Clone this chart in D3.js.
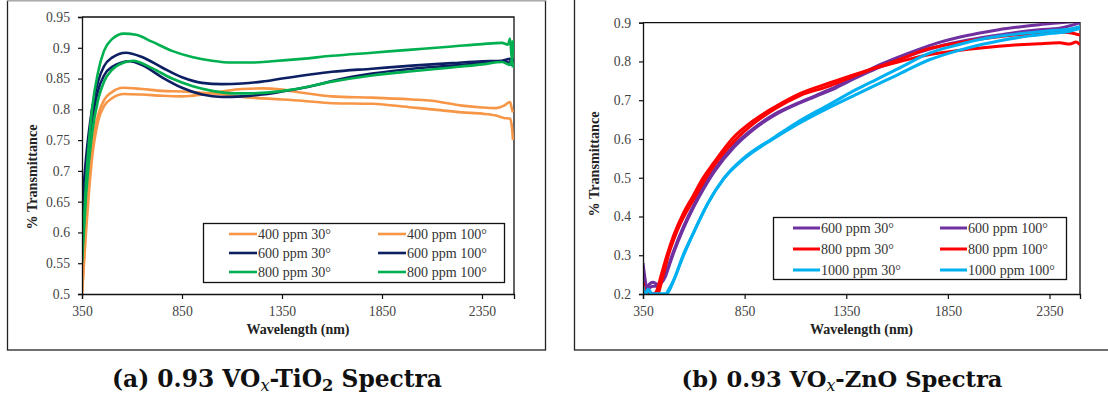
<!DOCTYPE html>
<html><head><meta charset="utf-8">
<script src="https://cdn.jsdelivr.net/npm/d3@7"></script>
<style>
html,body{margin:0;padding:0;background:#fff;}
svg{display:block;}
</style></head>
<body>
<svg id="c" width="1108" height="403"></svg>
<script>
// ---------- DATA ----------
const xTicks = [350, 850, 1350, 1850, 2350];
const tio2YTicks = [0.5, 0.55, 0.6, 0.65, 0.7, 0.75, 0.8, 0.85, 0.9, 0.95];
const znoYTicks = [0.2, 0.3, 0.4, 0.5, 0.6, 0.7, 0.8, 0.9];

const tio2Labels = ["400 ppm 30°", "400 ppm 100°", "600 ppm 30°", "600 ppm 100°", "800 ppm 30°", "800 ppm 100°"];
const znoLabels = ["600 ppm 30°", "600 ppm 100°", "800 ppm 30°", "800 ppm 100°", "1000 ppm 30°", "1000 ppm 100°"];

// TiO2 series: [wavelength nm, transmittance]
const tio2_400_30 = [[350,0.5],[370,0.62],[400,0.74],[430,0.79],[460,0.815],[500,0.828],[555,0.835],[650,0.833],[750,0.83],[850,0.829],[950,0.827],[1050,0.824],[1150,0.82],[1300,0.817],[1450,0.814],[1600,0.81],[1800,0.809],[2000,0.803],[2100,0.8],[2250,0.795],[2350,0.793],[2420,0.79],[2460,0.786],[2490,0.785],[2500,0.77],[2505,0.75]];
const tio2_400_100 = [[350,0.5],[370,0.6],[400,0.72],[430,0.78],[460,0.805],[500,0.818],[560,0.825],[650,0.824],[750,0.822],[850,0.821],[950,0.824],[1050,0.829],[1150,0.833],[1250,0.834],[1350,0.832],[1450,0.827],[1600,0.821],[1800,0.819],[2000,0.816],[2100,0.814],[2250,0.806],[2350,0.803],[2420,0.802],[2460,0.806],[2490,0.812],[2500,0.8],[2505,0.795]];
const tio2_600_30 = [[350,0.64],[370,0.72],[400,0.8],[430,0.845],[460,0.87],[500,0.884],[570,0.892],[650,0.885],[750,0.868],[850,0.852],[950,0.843],[1050,0.841],[1150,0.842],[1250,0.845],[1350,0.85],[1500,0.857],[1600,0.861],[1800,0.866],[2000,0.871],[2200,0.875],[2350,0.878],[2450,0.879],[2490,0.882],[2500,0.872],[2505,0.88]];
const tio2_600_100 = [[350,0.62],[370,0.7],[400,0.78],[430,0.83],[460,0.855],[500,0.869],[590,0.878],[650,0.872],[750,0.852],[850,0.835],[950,0.824],[1050,0.82],[1150,0.821],[1250,0.824],[1350,0.829],[1500,0.838],[1600,0.846],[1800,0.858],[2000,0.866],[2200,0.871],[2350,0.875],[2450,0.878],[2490,0.876],[2500,0.883],[2505,0.876]];
const tio2_800_30 = [[350,0.56],[370,0.68],[400,0.8],[430,0.86],[460,0.895],[500,0.914],[560,0.923],[620,0.921],[700,0.91],[800,0.895],[900,0.885],[1000,0.879],[1100,0.876],[1200,0.876],[1300,0.878],[1450,0.882],[1600,0.887],[1800,0.892],[2000,0.897],[2200,0.902],[2350,0.906],[2450,0.908],[2480,0.905],[2490,0.915],[2500,0.88],[2505,0.912]];
const tio2_800_100 = [[350,0.55],[370,0.66],[400,0.76],[430,0.815],[460,0.845],[500,0.864],[560,0.876],[605,0.879],[700,0.867],[800,0.85],[900,0.838],[1000,0.83],[1100,0.826],[1200,0.826],[1300,0.828],[1400,0.832],[1600,0.845],[1800,0.855],[2000,0.862],[2200,0.868],[2350,0.873],[2450,0.877],[2490,0.872],[2500,0.882],[2505,0.868]];

// ZnO series
const zno_600_30 = [[350,0.28],[360,0.24],[370,0.21],[380,0.225],[400,0.23],[420,0.225],[440,0.23],[460,0.25],[480,0.28],[500,0.31],[550,0.375],[600,0.43],[650,0.478],[700,0.52],[800,0.585],[900,0.63],[1000,0.665],[1100,0.69],[1200,0.712],[1300,0.735],[1400,0.762],[1500,0.788],[1600,0.81],[1700,0.83],[1800,0.848],[1900,0.862],[2000,0.873],[2100,0.882],[2200,0.889],[2300,0.895],[2400,0.9],[2500,0.905]];
const zno_600_100 = [[350,0.26],[360,0.22],[370,0.2],[380,0.215],[400,0.22],[420,0.22],[440,0.228],[460,0.245],[480,0.275],[500,0.305],[550,0.37],[600,0.425],[650,0.473],[700,0.515],[800,0.58],[900,0.627],[1000,0.662],[1100,0.688],[1200,0.71],[1300,0.732],[1400,0.758],[1500,0.782],[1600,0.803],[1700,0.822],[1800,0.838],[1900,0.85],[2000,0.86],[2100,0.868],[2200,0.876],[2300,0.882],[2400,0.886],[2500,0.9]];
const zno_800_30 = [[350,0.23],[365,0.2],[400,0.2],[414,0.205],[440,0.25],[468,0.3],[500,0.35],[550,0.41],[593,0.45],[640,0.495],[700,0.54],[788,0.6],[900,0.65],[1000,0.683],[1122,0.717],[1270,0.745],[1400,0.768],[1500,0.784],[1600,0.798],[1762,0.818],[1900,0.828],[2000,0.834],[2100,0.839],[2200,0.843],[2300,0.846],[2400,0.848],[2450,0.845],[2480,0.85],[2500,0.843]];
const zno_800_100 = [[350,0.22],[365,0.2],[420,0.2],[450,0.25],[475,0.3],[520,0.365],[600,0.445],[700,0.532],[800,0.595],[900,0.642],[1000,0.678],[1122,0.712],[1270,0.737],[1400,0.765],[1500,0.785],[1600,0.803],[1762,0.834],[1900,0.848],[2000,0.857],[2100,0.864],[2200,0.869],[2300,0.873],[2400,0.876],[2450,0.874],[2500,0.868]];
const zno_1000_30 = [[350,0.22],[360,0.2],[375,0.212],[390,0.2],[460,0.2],[480,0.215],[500,0.235],[547,0.3],[600,0.36],[665,0.43],[744,0.495],[850,0.55],[990,0.6],[1100,0.635],[1270,0.682],[1400,0.715],[1500,0.74],[1600,0.765],[1762,0.805],[1900,0.828],[2000,0.842],[2100,0.853],[2254,0.866],[2350,0.872],[2450,0.878],[2500,0.885]];
const zno_1000_100 = [[350,0.21],[360,0.2],[380,0.21],[395,0.2],[465,0.2],[485,0.215],[505,0.24],[550,0.3],[605,0.365],[670,0.435],[750,0.5],[855,0.555],[995,0.604],[1100,0.64],[1270,0.69],[1400,0.728],[1500,0.754],[1600,0.78],[1762,0.822],[1900,0.843],[2000,0.856],[2100,0.865],[2254,0.874],[2350,0.879],[2450,0.884],[2500,0.89]];

const tio2Series = [tio2_400_30, tio2_400_100, tio2_600_30, tio2_600_100, tio2_800_30, tio2_800_100];
const znoSeries = [zno_600_30, zno_600_100, zno_800_30, zno_800_100, zno_1000_30, zno_1000_100];
const tio2Colors = ["#F79646", "#F79646", "#0D1F63", "#0D1F63", "#00B050", "#00B050"];
const znoColors = ["#7030A0", "#7030A0", "#FF0000", "#FF0000", "#00B0F0", "#00B0F0"];

// ---------- FONT PICK ----------
function available(name) {
  const c = document.createElement("canvas").getContext("2d");
  const s = "abcdefghijklmnopqrstuvwxyzABCDEFGHIJKLM0123456789";
  const res = [];
  for (const fb of ["monospace", "sans-serif"]) {
    c.font = `40px ${fb}`; const a = c.measureText(s).width;
    c.font = `40px "${name}", ${fb}`; const b = c.measureText(s).width;
    res.push(Math.abs(a - b) > 0.5);
  }
  return res[0] && res[1];
}
const serifCands = ["Liberation Serif", "Times New Roman", "Tinos", "Noto Serif", "DejaVu Serif", "Georgia"];
const SERIF = (serifCands.find(available) || "DejaVu Serif");
const capCands = ["DejaVu Serif", "Noto Serif", "Liberation Serif", "Times New Roman"];
const CAPF = (capCands.find(available) || SERIF);
const FF = `"${SERIF}", serif`;
const CF = `"${CAPF}", serif`;

// ---------- DRAW ----------
const svg = d3.select("#c");
const fmt = d => String(+d.toFixed(2));

function fit(sel, target) {
  // scale font size so text width equals target
  sel.each(function () {
    const el = d3.select(this);
    const fs = parseFloat(el.attr("font-size"));
    const w = this.getComputedTextLength();
    if (w > 0) el.attr("font-size", (fs * target / w).toFixed(2));
  });
}
function scaleFor(sample, weight, target, family) {
  const t = svg.append("text").attr("font-family", family).attr("font-size", 20)
    .attr("font-weight", weight).text(sample);
  const w = t.node().getComputedTextLength();
  t.remove();
  return w > 0 ? 20 * target / w : 13;
}
const tickFS = Math.min(16, scaleFor("0.95", "normal", 24, FF));
const legFS = Math.min(16, scaleFor("400 ppm 100°", "normal", 80, FF));

// outer frames
svg.append("rect").attr("x", 7.5).attr("y", 0.5).attr("width", 538).attr("height", 349.5)
  .attr("fill", "none").attr("stroke", "#222").attr("stroke-width", 1.3);
svg.append("line").attr("x1", 7).attr("x2", 546).attr("y1", 0.5).attr("y2", 0.5)
  .attr("stroke", "#aaa").attr("stroke-width", 1.3);
svg.append("rect").attr("x", 574.5).attr("y", -5).attr("width", 560).attr("height", 355)
  .attr("fill", "none").attr("stroke", "#222").attr("stroke-width", 1.3);

function panel(o) {
  const x = d3.scaleLinear().domain(o.xDomain).range(o.xRange);
  const y = d3.scaleLinear().domain(o.yDomain).range(o.yRange);
  const g = svg.append("g").attr("font-family", FF);
  const id = "clip" + o.key;
  svg.append("clipPath").attr("id", id).append("rect")
    .attr("x", o.xRange[0]).attr("y", o.yRange[1])
    .attr("width", o.xRange[1] - o.xRange[0]).attr("height", o.yRange[0] - o.yRange[1]);

  g.append("path")
    .attr("d", `M${o.xRange[0]},${o.yRange[1]}H${o.xRange[1]}V${o.yRange[0]}`)
    .attr("fill", "none").attr("stroke", "#111").attr("stroke-width", 1.3);

  const line = d3.line().x(d => x(d[0])).y(d => y(d[1])).curve(d3.curveMonotoneX);
  g.append("g").attr("clip-path", `url(#${id})`)
    .selectAll("path").data(o.series).join("path")
    .attr("d", line).attr("fill", "none")
    .attr("stroke", (d, i) => o.colors[i]).attr("stroke-width", o.lw)
    .attr("stroke-linejoin", "round");

  const xa = g.append("g").attr("transform", `translate(0,${o.yRange[0]})`)
    .call(d3.axisBottom(x).tickValues(xTicks).tickSize(5).tickPadding(7).tickFormat(d3.format("d")));
  const ya = g.append("g").attr("transform", `translate(${o.xRange[0]},0)`)
    .call(d3.axisLeft(y).tickValues(o.yTicks).tickSize(4).tickPadding(8).tickFormat(fmt));
  [xa, ya].forEach(a => {
    a.attr("font-family", FF).attr("font-size", tickFS);
    a.select(".domain").attr("stroke", "#111").attr("stroke-width", 1.3);
    a.selectAll(".tick line").attr("stroke", "#111").attr("stroke-width", 1.2);
    a.selectAll(".tick text").attr("fill", "#444");
  });

  const xt = g.append("text").attr("x", (o.xRange[0] + o.xRange[1]) / 2).attr("y", 334)
    .attr("text-anchor", "middle").attr("font-weight", "bold").attr("font-size", 13)
    .attr("fill", "#222").text("Wavelength (nm)");
  fit(xt, 103);
  const yt = g.append("text").attr("transform", `translate(${o.yTitleX},${o.yTitleY}) rotate(-90)`)
    .attr("text-anchor", "middle").attr("font-weight", "bold").attr("font-size", 13)
    .attr("fill", "#222").text("% Transmittance");
  fit(yt, 105);

  const L = o.legend;
  g.append("rect").attr("x", L.x).attr("y", L.y).attr("width", L.w).attr("height", L.h)
    .attr("fill", "#fff").attr("stroke", "#111").attr("stroke-width", 1.3);
  o.labels.forEach((lab, i) => {
    const col = i % 2, row = Math.floor(i / 2);
    const lx = L.colX[col], ly = L.rowY[row];
    g.append("line").attr("x1", lx).attr("x2", lx + L.lineLen).attr("y1", ly).attr("y2", ly)
      .attr("stroke", o.colors[i]).attr("stroke-width", o.lw);
    g.append("text").attr("x", lx + L.lineLen + 1).attr("y", ly).attr("dy", "0.33em")
      .attr("font-size", legFS).attr("fill", "#333").text(lab);
  });
}

panel({
  key: "a", xDomain: [350, 2510], xRange: [82, 514], yDomain: [0.5, 0.95], yRange: [294, 17],
  yTicks: tio2YTicks, series: tio2Series, colors: tio2Colors, labels: tio2Labels, lw: 2.6,
  yTitleX: 37, yTitleY: 177,
  legend: { x: 203.5, y: 223.5, w: 301, h: 59, colX: [229, 378], rowY: [234, 253, 272], lineLen: 28 }
});
panel({
  key: "b", xDomain: [350, 2500], xRange: [643, 1080], yDomain: [0.2, 0.9], yRange: [294, 22.7],
  yTicks: znoYTicks, series: znoSeries, colors: znoColors, labels: znoLabels, lw: 3,
  yTitleX: 599, yTitleY: 164,
  legend: { x: 773.5, y: 217.5, w: 293, h: 62, colX: [793, 940], rowY: [228, 249, 270], lineLen: 27 }
});

// captions
function caption(cx, parts, target) {
  const t = svg.append("text").attr("x", cx).attr("y", 387).attr("text-anchor", "middle")
    .attr("font-family", CF).attr("font-weight", "bold").attr("font-size", 19)
    .attr("fill", "#111");
  parts.forEach(p => {
    const s = t.append("tspan").text(p.t);
    if (p.sub) s.attr("baseline-shift", "-25%").attr("font-size", "70%");
    if (p.it) s.attr("font-style", "italic").attr("font-weight", "normal");
  });
  fit(t, target);
  return t;
}
caption(277, [{t: "(a) 0.93 VO"}, {t: "x", sub: true, it: true}, {t: "-TiO"}, {t: "2", sub: true}, {t: " Spectra"}], 330);
caption(842, [{t: "(b) 0.93 VO"}, {t: "x", sub: true, it: true}, {t: "-ZnO Spectra"}], 321);
</script>
</body></html>
